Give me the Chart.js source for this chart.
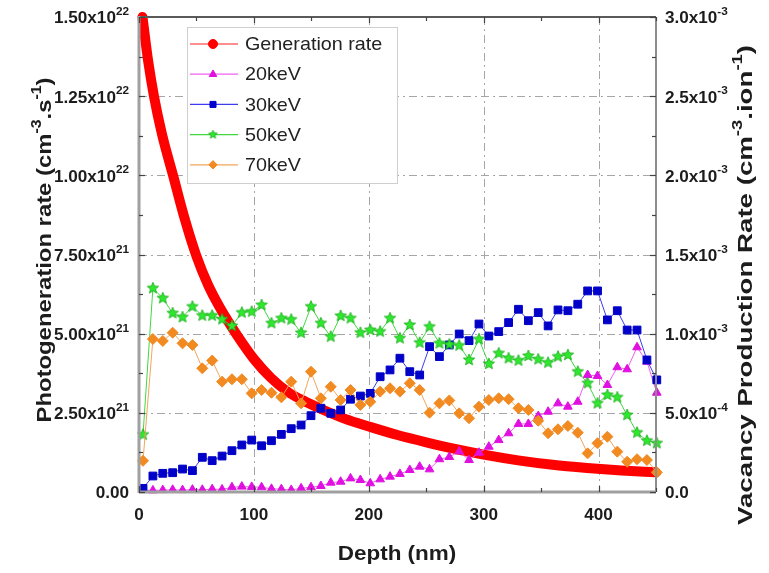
<!DOCTYPE html>
<html>
<head>
<meta charset="utf-8">
<script src="https://cdn.jsdelivr.net/npm/chart.js@4.4.1/dist/chart.umd.min.js"></script>
<style>
  html, body { margin: 0; padding: 0; background: #fff; }
  #wrap { position: relative; width: 769px; height: 573px; }
</style>
</head>
<body>
<div id="wrap"><canvas id="chart" width="769" height="573"></canvas></div>
<script>
// ------------------------------------------------------------
// data
// ------------------------------------------------------------

// depth of the SRIM bins (nm)
const depth = [3.5, 12.1, 20.7, 29.3, 37.9, 46.5, 55.1, 63.7, 72.3, 80.9,
  89.5, 98.1, 106.7, 115.3, 123.9, 132.5, 141.1, 149.7, 158.3, 166.9,
  175.5, 184.1, 192.7, 201.3, 209.9, 218.5, 227.1, 235.7, 244.3, 252.9,
  261.5, 270.1, 278.7, 287.3, 295.9, 304.5, 313.1, 321.7, 330.3, 338.9,
  347.5, 356.1, 364.7, 373.3, 381.9, 390.5, 399.1, 407.7, 416.3, 424.9,
  433.5, 442.1, 450.7];

// vacancy production rate, x1e-3 cm-3.ion-1
const vac20 = [0.012, 0.010, 0.012, 0.014, 0.012, 0.015, 0.014, 0.018, 0.016, 0.030,
  0.034, 0.032, 0.030, 0.020, 0.018, 0.013, 0.023, 0.030, 0.038, 0.059,
  0.065, 0.086, 0.076, 0.055, 0.080, 0.097, 0.114, 0.139, 0.160, 0.143,
  0.207, 0.221, 0.256, 0.202, 0.248, 0.286, 0.328, 0.371, 0.430, 0.430,
  0.480, 0.507, 0.560, 0.539, 0.570, 0.739, 0.733, 0.676, 0.788, 0.775,
  0.914, 0.823, 0.627];
const vac30 = [0.023, 0.101, 0.118, 0.122, 0.145, 0.135, 0.219, 0.198, 0.227, 0.261,
  0.297, 0.328, 0.292, 0.324, 0.364, 0.400, 0.423, 0.482, 0.529, 0.497,
  0.518, 0.586, 0.606, 0.623, 0.728, 0.771, 0.845, 0.760, 0.739, 0.918,
  0.855, 0.929, 0.998, 0.956, 1.061, 0.985, 1.013, 1.070, 1.154, 1.082,
  1.133, 1.049, 1.150, 1.145, 1.186, 1.270, 1.270, 1.087, 1.145, 1.023,
  1.023, 0.834, 0.708];
const vac50 = [0.362, 1.287, 1.224, 1.129, 1.104, 1.171, 1.114, 1.114, 1.091, 1.049,
  1.133, 1.139, 1.181, 1.066, 1.097, 1.089, 1.005, 1.171, 1.066, 0.981,
  1.112, 1.097, 1.006, 1.023, 1.013, 1.097, 0.971, 1.055, 0.943, 1.044,
  0.939, 0.932, 0.925, 0.834, 0.965, 0.809, 0.876, 0.845, 0.830, 0.859,
  0.838, 0.817, 0.855, 0.865, 0.760, 0.687, 0.560, 0.613, 0.598, 0.486,
  0.375, 0.324, 0.308];
const vac70 = [0.197, 0.966, 0.954, 1.006, 0.939, 0.929, 0.781, 0.830, 0.697, 0.712,
  0.712, 0.623, 0.644, 0.627, 0.598, 0.697, 0.560, 0.760, 0.592, 0.665,
  0.581, 0.644, 0.550, 0.570, 0.634, 0.655, 0.634, 0.687, 0.644, 0.501,
  0.560, 0.578, 0.497, 0.466, 0.539, 0.581, 0.592, 0.586, 0.529, 0.518,
  0.450, 0.371, 0.396, 0.417, 0.375, 0.244, 0.308, 0.349, 0.255, 0.191,
  0.207, 0.202, 0.124];

// photogeneration rate, x1e21 cm-3.s-1
const genDepth = [3, 8, 13, 20, 30, 40, 50, 60, 70, 80, 90, 100, 115, 130, 145,
  160, 180, 200, 225, 250, 275, 300, 330, 360, 390, 420, 450];
const genRate = [15.0, 13.6, 12.5, 11.3, 9.95, 8.6, 7.45, 6.55, 5.85, 5.25, 4.7, 4.2, 3.6, 3.15, 2.85,
  2.6, 2.3, 2.07, 1.8, 1.57, 1.36, 1.18, 1.0, 0.86, 0.76, 0.68, 0.62];

// tick labels
const xTicks = [0, 100, 200, 300, 400];
const leftTicks = [0, 2.5, 5, 7.5, 10, 12.5, 15];
const leftTickText = ['0.00', '2.50x10', '5.00x10', '7.50x10', '1.00x10', '1.25x10', '1.50x10'];
const leftTickExp = ['', '21', '21', '21', '22', '22', '22'];
const rightTicks = [0, 0.5, 1, 1.5, 2, 2.5, 3];
const rightTickText = ['0.0', '5.0x10', '1.0x10', '1.5x10', '2.0x10', '2.5x10', '3.0x10'];
const rightTickExp = ['', '-4', '-3', '-3', '-3', '-3', '-3'];

const seriesNames = ['Generation rate', '20keV', '30keV', '50keV', '70keV'];

// ------------------------------------------------------------
// styling
// ------------------------------------------------------------
const FONT = '"Liberation Sans", Arial, sans-serif';
const TEXT = '#1c1c1c';
const GRID = '#a6a6a6';

function starPath(g, cx, cy, ro, ri) {
  g.beginPath();
  for (let k = 0; k < 10; k++) {
    const a = -Math.PI / 2 + k * Math.PI / 5;
    const rr = k % 2 ? ri : ro;
    g.lineTo(cx + rr * Math.cos(a), cy + rr * Math.sin(a));
  }
  g.closePath();
}

function makeStar(fill, stroke, r) {
  const c = document.createElement('canvas');
  const s = Math.ceil(r * 2 + 2);
  c.width = s; c.height = s;
  const g = c.getContext('2d');
  starPath(g, s / 2, s / 2, r, r * 0.45);
  g.fillStyle = fill; g.fill();
  g.strokeStyle = stroke; g.lineWidth = 0.8; g.stroke();
  return c;
}

const starImg = makeStar('#2ee82e', '#1aa81a', 6);
const starImgSmall = makeStar('#2ee82e', '#1aa81a', 4.5);

const STYLES = {
  'Generation rate': { color: '#ff0000', line: '#ff2020', marker: 'circle', r: 5 },
  '20keV': { color: '#e010e0', line: '#f060f0', marker: 'triangle', r: 5 },
  '30keV': { color: '#0000c8', line: '#3c3cf0', marker: 'rect', r: 5.5 },
  '50keV': { color: '#2ee82e', line: '#40d840', marker: starImg, r: 6 },
  '70keV': { color: '#f28a22', line: '#f3a45a', marker: 'rectRot', r: 5.5 },
};

function vacDataset(name, values, order) {
  const st = STYLES[name];
  return {
    label: name,
    data: depth.map((d, i) => ({ x: d, y: values[i] })),
    yAxisID: 'yR',
    borderColor: st.line,
    borderWidth: 1,
    pointStyle: st.marker,
    pointRadius: st.r,
    pointBackgroundColor: st.color,
    pointBorderColor: st.color,
    pointBorderWidth: 1,
    tension: 0,
    clip: false,
    order,
  };
}

// ------------------------------------------------------------
// text helpers (superscripts)
// ------------------------------------------------------------
function richWidth(ctx, parts, f, fs) {
  let w = 0;
  parts.forEach(p => { ctx.font = p.sup ? fs : f; w += ctx.measureText(p.t).width; });
  return w;
}

function drawRich(ctx, parts, x, y, f, fs, rise) {
  parts.forEach(p => {
    ctx.font = p.sup ? fs : f;
    ctx.fillText(p.t, x, p.sup ? y - rise : y);
    x += ctx.measureText(p.t).width;
  });
}

function tickParts(base, exp) {
  return exp ? [{ t: base }, { t: exp, sup: true }] : [{ t: base }];
}

function drawMarker(ctx, style, x, y, r, color) {
  ctx.save();
  ctx.fillStyle = color; ctx.strokeStyle = color; ctx.lineWidth = 1;
  if (typeof style !== 'string') {
    ctx.drawImage(style, x - style.width / 2, y - style.height / 2);
    ctx.restore();
    return;
  }
  ctx.beginPath();
  if (style === 'circle') ctx.arc(x, y, r, 0, Math.PI * 2);
  else if (style === 'rect') { const s = r * 0.72; ctx.rect(x - s, y - s, 2 * s, 2 * s); }
  else if (style === 'triangle') { ctx.moveTo(x, y - r); ctx.lineTo(x + r * 0.9, y + r * 0.55); ctx.lineTo(x - r * 0.9, y + r * 0.55); ctx.closePath(); }
  else if (style === 'rectRot') { ctx.moveTo(x, y - r); ctx.lineTo(x + r, y); ctx.lineTo(x, y + r); ctx.lineTo(x - r, y); ctx.closePath(); }
  ctx.fill(); ctx.stroke();
  ctx.restore();
}

// dash-dot grid lines under the data
const dashGrid = {
  id: 'dashGrid',
  beforeDatasetsDraw(chart) {
    const { ctx, chartArea: a, scales } = chart;
    ctx.save();
    ctx.strokeStyle = GRID; ctx.lineWidth = 1;
    ctx.setLineDash([8, 4, 2, 4]);
    xTicks.slice(1).forEach(v => {
      const px = Math.round(scales.x.getPixelForValue(v)) + 0.5;
      ctx.beginPath(); ctx.moveTo(px, a.top); ctx.lineTo(px, a.bottom); ctx.stroke();
    });
    leftTicks.slice(1, -1).forEach(v => {
      const py = Math.round(scales.yL.getPixelForValue(v)) + 0.5;
      ctx.beginPath(); ctx.moveTo(a.left, py); ctx.lineTo(a.right, py); ctx.stroke();
    });
    ctx.restore();
  }
};

// frame, inward ticks, labels, titles and legend
const frameAndLabels = {
  id: 'frameAndLabels',
  afterDraw(chart) {
    const { ctx, chartArea: a, scales } = chart;
    const sx = scales.x, yl = scales.yL, yr = scales.yR;
    ctx.save();

    // axis lines
    ctx.lineCap = 'butt';
    ctx.strokeStyle = '#5a5a5a'; ctx.lineWidth = 2;
    ctx.beginPath(); ctx.moveTo(a.left, a.top); ctx.lineTo(a.right, a.top); ctx.stroke();
    ctx.strokeStyle = '#8c8c8c'; ctx.lineWidth = 2;
    ctx.beginPath(); ctx.moveTo(a.right, a.top); ctx.lineTo(a.right, a.bottom); ctx.stroke();
    ctx.strokeStyle = '#a0a0a0'; ctx.lineWidth = 3;
    ctx.beginPath(); ctx.moveTo(a.left, a.top - 1); ctx.lineTo(a.left, a.bottom + 1); ctx.stroke();
    ctx.beginPath(); ctx.moveTo(a.left, a.bottom); ctx.lineTo(a.right, a.bottom); ctx.stroke();

    // inward ticks
    ctx.strokeStyle = '#444'; ctx.lineWidth = 1.2;
    const tick = (x1, y1, x2, y2) => { ctx.beginPath(); ctx.moveTo(x1, y1); ctx.lineTo(x2, y2); ctx.stroke(); };
    for (let v = 0; v <= 450; v += 50) {
      const px = Math.round(sx.getPixelForValue(v)) + 0.5;
      const len = v % 100 === 0 ? 6 : 4;
      tick(px, a.bottom, px, a.bottom - len);
      tick(px, a.top, px, a.top + len);
    }
    for (let v = 0; v <= 15; v += 1.25) {
      const py = Math.round(yl.getPixelForValue(v)) + 0.5;
      tick(a.left, py, a.left + (v % 2.5 === 0 ? 6 : 4), py);
    }
    for (let v = 0; v <= 3; v += 0.25) {
      const py = Math.round(yr.getPixelForValue(v)) + 0.5;
      tick(a.right, py, a.right - (v % 0.5 === 0 ? 6 : 4), py);
    }

    // tick labels
    const tf = 'bold 16px ' + FONT, tfs = 'bold 11px ' + FONT;
    const stretch = 1.07;
    ctx.fillStyle = TEXT; ctx.textAlign = 'left'; ctx.textBaseline = 'middle';
    leftTicks.forEach((v, i) => {
      const parts = tickParts(leftTickText[i], leftTickExp[i]);
      const w = richWidth(ctx, parts, tf, tfs) * stretch;
      ctx.save();
      ctx.translate(129 - w, yl.getPixelForValue(v) + 2);
      ctx.scale(stretch, 1);
      drawRich(ctx, parts, 0, 0, tf, tfs, 7);
      ctx.restore();
    });
    rightTicks.forEach((v, i) => {
      const parts = tickParts(rightTickText[i], rightTickExp[i]);
      ctx.save();
      ctx.translate(665, yr.getPixelForValue(v) + 2);
      ctx.scale(stretch, 1);
      drawRich(ctx, parts, 0, 0, tf, tfs, 7);
      ctx.restore();
    });
    xTicks.forEach(v => {
      const parts = [{ t: String(v) }];
      const w = richWidth(ctx, parts, tf, tfs) * stretch;
      ctx.save();
      ctx.translate(sx.getPixelForValue(v) - w / 2, 516);
      ctx.scale(stretch, 1);
      drawRich(ctx, parts, 0, 0, tf, tfs, 7);
      ctx.restore();
    });

    // axis titles
    const Tf = 'bold 21px ' + FONT, Tfs = 'bold 14px ' + FONT;
    const drawTitle = (parts, cx, cy, rot, len) => {
      const w = richWidth(ctx, parts, Tf, Tfs);
      const s = len ? len / w : stretch;
      ctx.save();
      ctx.translate(cx, cy);
      ctx.rotate(rot);
      ctx.scale(s, 1);
      drawRich(ctx, parts, -w / 2, 0, Tf, Tfs, 8);
      ctx.restore();
    };
    drawTitle([{ t: 'Depth (nm)' }], 397, 554, 0, 0);
    drawTitle([{ t: 'Photogeneration rate (cm' }, { t: '-3', sup: true }, { t: '.s' }, { t: '-1', sup: true }, { t: ')' }],
      45, 250, -Math.PI / 2, 345);
    drawTitle([{ t: 'Vacancy Production Rate (cm' }, { t: '-3', sup: true }, { t: '.ion' }, { t: '-1', sup: true }, { t: ')' }],
      746, 285, -Math.PI / 2, 480);

    // legend
    const lx = 187, ly = 27, lw = 210, lh = 156;
    ctx.fillStyle = '#ffffff';
    ctx.fillRect(lx, ly, lw, lh);
    ctx.strokeStyle = '#cfcfcf'; ctx.lineWidth = 1;
    ctx.strokeRect(lx + 0.5, ly + 0.5, lw, lh);
    const lf = '19px ' + FONT;
    seriesNames.forEach((name, i) => {
      const st = STYLES[name];
      const y = 44 + i * 30.2;
      ctx.strokeStyle = st.line; ctx.lineWidth = 1.2;
      ctx.beginPath(); ctx.moveTo(190, y); ctx.lineTo(238, y); ctx.stroke();
      const mk = typeof st.marker === 'string' ? st.marker : starImgSmall;
      drawMarker(ctx, mk, 213, y, name === 'Generation rate' ? 4.5 : 4.2, st.color);
      ctx.fillStyle = '#222';
      ctx.save();
      ctx.translate(245, y + 1);
      ctx.scale(1.04, 1);
      ctx.font = lf; ctx.textBaseline = 'middle'; ctx.textAlign = 'left';
      ctx.fillText(name, 0, 0);
      ctx.restore();
    });

    ctx.restore();
  }
};

const hiddenGrid = { display: false, drawTicks: false };

const canvas = document.getElementById('chart');
new Chart(canvas, {
  type: 'line',
  data: {
    datasets: [
      {
        label: 'Generation rate',
        data: genDepth.map((d, i) => ({ x: d, y: genRate[i] })),
        yAxisID: 'yL',
        borderColor: STYLES['Generation rate'].color,
        borderWidth: 10,
        borderCapStyle: 'round',
        borderJoinStyle: 'round',
        pointRadius: 0,
        cubicInterpolationMode: 'monotone',
        clip: false,
        order: 5,
      },
      vacDataset('20keV', vac20, 4),
      vacDataset('30keV', vac30, 3),
      vacDataset('50keV', vac50, 2),
      vacDataset('70keV', vac70, 1),
    ],
  },
  options: {
    responsive: false,
    animation: false,
    devicePixelRatio: 1,
    layout: { padding: { left: 139, right: 113, top: 17, bottom: 81 } },
    plugins: { legend: { display: false }, tooltip: { enabled: false } },
    scales: {
      x: {
        type: 'linear', min: 0, max: 450,
        ticks: { display: false, stepSize: 100 },
        grid: hiddenGrid,
        border: { display: false },
      },
      yL: {
        type: 'linear', position: 'left', min: 0, max: 15,
        ticks: { display: false, stepSize: 2.5 },
        grid: hiddenGrid,
        border: { display: false },
      },
      yR: {
        type: 'linear', position: 'right', min: 0, max: 3,
        ticks: { display: false, stepSize: 0.5 },
        grid: hiddenGrid,
        border: { display: false },
      },
    },
  },
  plugins: [dashGrid, frameAndLabels],
});
</script>
</body>
</html>
